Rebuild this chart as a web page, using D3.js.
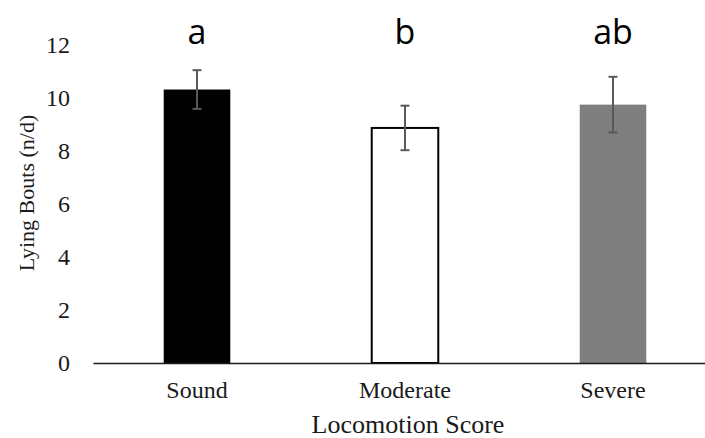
<!DOCTYPE html>
<html>
<head>
<meta charset="utf-8">
<script src="https://cdn.jsdelivr.net/npm/d3@7"></script>
<style>
  body { margin: 0; background: #fff; }
  svg { display: block; }
</style>
</head>
<body>
<div id="chart"></div>
<script>
const categories = ["Sound", "Moderate", "Severe"];
const means = [10.32, 8.87, 9.75];
const errors = [0.73, 0.84, 1.05];
const letters = ["a", "b", "ab"];
const fills = ["#000000", "#ffffff", "#7f7f7f"];
const yTicks = [0, 2, 4, 6, 8, 10, 12];

const width = 705;
const height = 438;
const margin = ({ top: 45, right: -12, bottom: 75, left: 93 });
const serif = "'Liberation Serif', 'Times New Roman', serif";

const x = d3.scaleBand()
	.domain(categories)
	.range([margin.left, width - margin.right])
	.paddingInner(0.68)
	.paddingOuter(0.34);

const y = d3.scaleLinear()
	.domain([0, 12])
	.range([height - margin.bottom, margin.top]);

const svg = d3.select("#chart")
	.append("svg")
	.attr("width", width)
	.attr("height", height)
	.attr("viewBox", [0, 0, width, height]);

// y tick labels, no axis line
svg.append("g")
	.attr("transform", `translate(${margin.left},0)`)
	.call(d3.axisLeft(y).tickValues(yTicks).tickSize(0).tickPadding(23))
	.call(g => g.select(".domain").remove())
	.call(g => g.selectAll("text")
		.attr("font-family", serif)
		.attr("font-size", 24)
		.attr("fill", "#1a1a1a"));

// bars
svg.append("g")
	.selectAll("rect")
	.data(categories)
	.join("rect")
	.attr("x", d => x(d))
	.attr("y", (d, i) => y(means[i]))
	.attr("width", x.bandwidth())
	.attr("height", (d, i) => y(0) - y(means[i]))
	.attr("fill", (d, i) => fills[i])
	.attr("stroke", (d, i) => i === 1 ? "#000" : "none")
	.attr("stroke-width", 2);

// x axis
svg.append("g")
	.attr("transform", `translate(0,${y(0)})`)
	.call(d3.axisBottom(x).tickSize(0).tickPadding(18).tickSizeOuter(0))
	.call(g => g.select(".domain").attr("stroke", "#1a1a1a").attr("stroke-width", 1.5))
	.call(g => g.selectAll("text")
		.attr("font-family", serif)
		.attr("font-size", 24)
		.attr("fill", "#1a1a1a"));

// error bars
const err = svg.append("g")
	.attr("stroke", "#595959")
	.attr("stroke-width", 2);

categories.forEach((c, i) => {
	const cx = x(c) + x.bandwidth() / 2;
	const hi = y(means[i] + errors[i]);
	const lo = y(means[i] - errors[i]);
	err.append("line").attr("x1", cx).attr("x2", cx).attr("y1", hi).attr("y2", lo);
	err.append("line").attr("x1", cx - 4.5).attr("x2", cx + 4.5).attr("y1", hi).attr("y2", hi);
	err.append("line").attr("x1", cx - 4.5).attr("x2", cx + 4.5).attr("y1", lo).attr("y2", lo);
});

// significance letters
svg.append("g")
	.selectAll("text")
	.data(categories)
	.join("text")
	.attr("x", d => x(d) + x.bandwidth() / 2)
	.attr("y", 44)
	.attr("text-anchor", "middle")
	.attr("font-family", "'Open Sans', 'Noto Sans', sans-serif")
	.attr("font-size", 34)
	.attr("fill", "#000")
	.text((d, i) => letters[i]);

// axis titles
svg.append("text")
	.attr("x", 408)
	.attr("y", 433)
	.attr("text-anchor", "middle")
	.attr("font-family", serif)
	.attr("font-size", 26)
	.attr("fill", "#1a1a1a")
	.text("Locomotion Score");

svg.append("text")
	.attr("transform", "translate(34,193) rotate(-90)")
	.attr("text-anchor", "middle")
	.attr("font-family", serif)
	.attr("font-size", 22)
	.attr("fill", "#1a1a1a")
	.text("Lying Bouts (n/d)");
</script>
</body>
</html>
